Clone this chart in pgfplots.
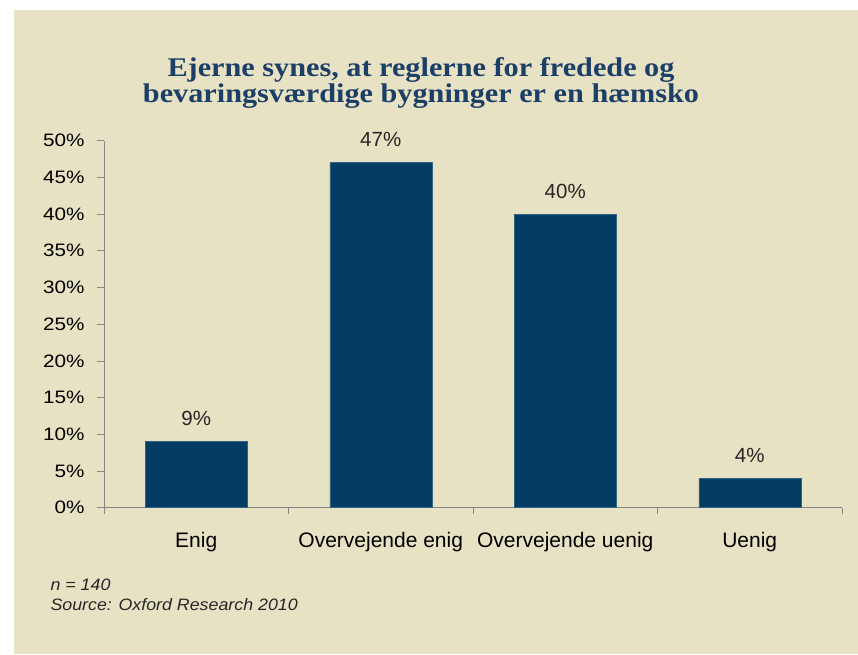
\documentclass[border=0pt]{standalone}
\usepackage{fontspec}
\setmainfont{Liberation Sans}
\newfontfamily\titlefont[FakeStretch=1.12]{Liberation Serif}
\newfontfamily\tickfont[FakeStretch=1.15]{Liberation Sans}
\newfontfamily\footfont[FakeStretch=1.08]{Liberation Sans}
\usepackage{pgfplots}
\pgfplotsset{compat=1.18}
\definecolor{bg}{HTML}{E8E2C4}
\definecolor{barblue}{HTML}{023B63}
\definecolor{titleblue}{HTML}{1B3F66}
\definecolor{axisgray}{HTML}{868686}
\begin{document}
\begin{tikzpicture}[x=1pt,y=1pt]
\useasboundingbox (0,0) rectangle (858,654);
\fill[white] (0,0) rectangle (858,654);
\fill[bg] (14,0) rectangle (858,644);
\node[anchor=base,text=titleblue,font=\titlefont\bfseries\fontsize{27}{28}\selectfont] at (421,577.3) {Ejerne synes, at reglerne for fredede og};
\node[anchor=base,text=titleblue,font=\titlefont\bfseries\fontsize{27}{28}\selectfont] at (421,551.7) {bevaringsværdige bygninger er en hæmsko};
\begin{axis}[
  at={(104pt,146.3pt)}, anchor=south west,
  scale only axis, width=738pt, height=367pt,
  xmin=-0.5, xmax=3.5, ymin=0, ymax=50,
  axis x line=bottom, axis y line=left,
  axis line style={-, draw=axisgray, line width=0.8pt},
  tick align=outside,
  major tick length=7pt, minor tick length=6pt,
  xtick={0,1,2,3},
  xticklabels={Enig, Overvejende enig, Overvejende uenig, Uenig},
  minor xtick={-0.5,0.5,1.5,2.5,3.5},
  major x tick style={draw=none},
  minor x tick style={draw=axisgray, line width=0.8pt},
  ytick={0,5,...,50},
  ytick style={draw=axisgray, line width=0.8pt},
  yticklabel={\pgfmathprintnumber{\tick}\%},
  /pgf/number format/assume math mode=true,
  y tick label style={font=\tickfont\fontsize{18}{18}\selectfont, text=black, xshift=-9pt},
  x tick label style={font=\fontsize{21}{21}\selectfont, text=black, anchor=base, yshift=-33pt},
  ybar, bar width=102pt,
  nodes near coords={\pgfmathprintnumber{\pgfplotspointmeta}\%},
  every node near coord/.append style={font=\fontsize{20.5}{20.5}\selectfont, text=black!85, anchor=base, yshift=16pt},
  clip=false,
]
\addplot[fill=barblue, draw=barblue!80!white, line width=0.5pt] coordinates {(0,9) (1,47) (2,40) (3,4)};
\end{axis}
\node[anchor=base west,font=\footfont\itshape\fontsize{16.5}{16.5}\selectfont,text=black!85] at (47,64) {n = 140};
\node[anchor=base west,font=\footfont\itshape\fontsize{16.5}{16.5}\selectfont,text=black!85] at (47,43.3) {Source: Oxford Research 2010};
\end{tikzpicture}
\end{document}
